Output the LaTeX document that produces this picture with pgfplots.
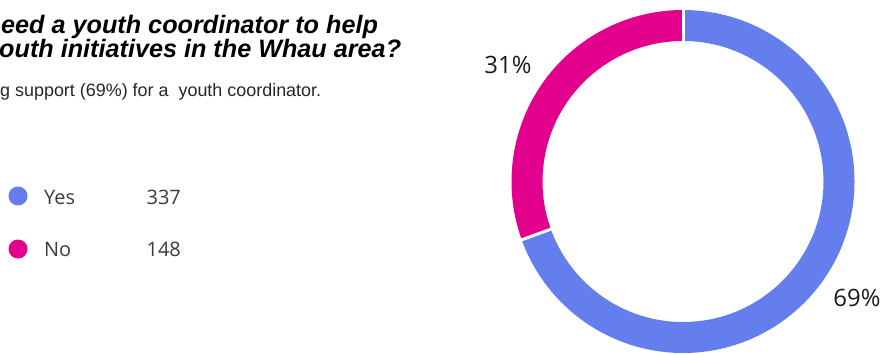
\documentclass[border=0pt]{standalone}
\usepackage{pgfplots}
\usepackage{pgfplotstable}
\pgfplotsset{compat=1.18}
\usepackage{fontspec}
\setmainfont{Open Sans}
\newfontfamily\arialfont{Liberation Sans}
\definecolor{yescol}{HTML}{657EEE}
\definecolor{nocol}{HTML}{E3008C}
\definecolor{legtext}{HTML}{3B3B3B}
\definecolor{pcttext}{HTML}{1A1A1A}
\pgfplotstableread{
label value
Yes 337
No 148
}\datatable

\begin{document}
\begin{tikzpicture}
\pgfplotstablegetelem{0}{value}\of\datatable \let\vyes\pgfplotsretval
\pgfplotstablegetelem{1}{value}\of\datatable \let\vno\pgfplotsretval
\pgfmathsetmacro\tot{\vyes+\vno}
\pgfmathsetmacro\fyes{\vyes/\tot}
\pgfmathsetmacro\fno{\vno/\tot}
\pgfmathsetmacro\ayes{360*\fyes}
\pgfmathtruncatemacro\pyes{round(100*\fyes)}
\pgfmathtruncatemacro\pno{round(100*\fno)}
\begin{axis}[hide axis, scale only axis, x=1bp, y=1bp,
  xmin=0, xmax=884, ymin=0, ymax=354, clip=false]
\coordinate (bl) at (axis cs:0,0);
\coordinate (tr) at (axis cs:884,354);
\coordinate (c) at (axis cs:683,172.5);
% donut
\draw[line width=31bp, yescol] (c) ++(90:156bp) arc[start angle=90, end angle={90-\ayes}, radius=156bp];
\draw[line width=31bp, nocol] (c) ++({90-\ayes}:156bp) arc[start angle={90-\ayes}, end angle=-270, radius=156bp];
\draw[white, line width=3bp] (c) ++(90:138bp) -- ++(90:36bp);
\draw[white, line width=3bp] (c) ++({90-\ayes}:138bp) -- ++({90-\ayes}:36bp);
% percentage labels
\node[anchor=base, text=pcttext, font=\fontsize{24}{28}\selectfont, inner sep=0pt] at (axis cs:508,281) {\pno\%};
\node[anchor=base, text=pcttext, font=\fontsize{24}{28}\selectfont, inner sep=0pt] at (axis cs:857,48) {\pyes\%};
% title
\node[anchor=base west, inner sep=0pt, font=\arialfont\bfseries\itshape\fontsize{25.3}{28}\selectfont] at (axis cs:1,321) {eed a youth coordinator to help};
\node[anchor=base west, inner sep=0pt, font=\arialfont\bfseries\itshape\fontsize{25.3}{28}\selectfont] at (axis cs:-1,296.5) {outh initiatives in the Whau area?};
\node[anchor=base west, inner sep=0pt, text=black!85, font=\arialfont\fontsize{18}{21}\selectfont] at (axis cs:0,258) {g support (69\%) for a\ \ youth coordinator.};
% legend
\fill[yescol] (axis cs:18,158) circle[radius=9.5bp];
\fill[nocol] (axis cs:18,105) circle[radius=9.5bp];
\node[anchor=base west, inner sep=0pt, text=legtext, font=\fontsize{20}{24}\selectfont] at (axis cs:44,150) {Yes};
\node[anchor=base west, inner sep=0pt, text=legtext, font=\fontsize{20}{24}\selectfont] at (axis cs:44,98) {No};
\node[anchor=base east, inner sep=0pt, text=legtext, font=\fontsize{20}{24}\selectfont] at (axis cs:181,150) {\vyes};
\node[anchor=base east, inner sep=0pt, text=legtext, font=\fontsize{20}{24}\selectfont] at (axis cs:181,98) {\vno};
\end{axis}
\pgfresetboundingbox
\useasboundingbox (bl) rectangle (tr);
\end{tikzpicture}
\end{document}
